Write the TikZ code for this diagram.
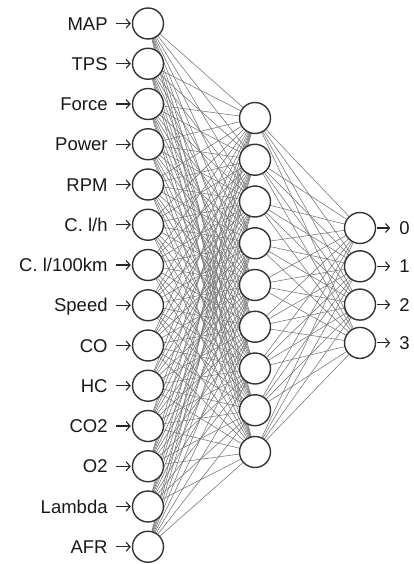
\documentclass[tikz,border=0pt]{standalone}
\usepackage{fontspec}
\setmainfont{Liberation Sans}
\usetikzlibrary{backgrounds,arrows.meta}
\begin{document}
\begin{tikzpicture}[x=1pt,y=-1pt,
  neuron/.style={circle,draw=black!80,line width=1.4pt,fill=white,minimum size=31pt,inner sep=0pt},
  conn/.style={draw=black!55,line width=0.55pt},
  arr/.style={draw=black!85,line width=1.1pt,-{Straight Barb[length=4pt,width=9pt,line width=1.1pt]}},
  lab/.style={font=\fontsize{18.5}{20}\selectfont,text=black!90,inner sep=0pt}]
\useasboundingbox (0,0) rectangle (413,564);
% input layer
\foreach \t [count=\k] in {MAP,TPS,Force,Power,RPM,C. l/h,C. l/100km,Speed,CO,HC,CO2,O2,Lambda,AFR}{
  \node[neuron] (i\k) at (148,{23.5+40.25*(\k-1)}) {};
  \node[lab,anchor=base east] (il\k) at ([xshift=-24pt,yshift=-6.6pt]i\k.west) {\t};
  \coordinate (ia\k) at ([xshift=-16pt]i\k.west);
  \draw[arr] (ia\k) -- ([xshift=-1pt]i\k.west);
}
% hidden layer
\foreach \k in {1,...,9}{
  \node[neuron] (h\k) at (255,{118+41.75*(\k-1)}) {};
}
% output layer
\foreach \t [count=\k] in {0,1,2,3}{
  \node[neuron] (o\k) at (360,{228+38.3*(\k-1)}) {};
  \coordinate (oa\k) at ([xshift=14pt]o\k.east);
  \draw[arr] ([xshift=1pt]o\k.east) -- (oa\k);
  \node[lab,anchor=base west] (ol\k) at ([xshift=23pt,yshift=-6.6pt]o\k.east) {\t};
}
\begin{scope}[on background layer]
\foreach \a in {1,...,14}{\foreach \b in {1,...,9}{\draw[conn] (i\a.center) -- (h\b.center);}}
\foreach \a in {1,...,9}{\foreach \b in {1,...,4}{\draw[conn] (h\a.center) -- (o\b.center);}}
\end{scope}
\end{tikzpicture}
\end{document}
